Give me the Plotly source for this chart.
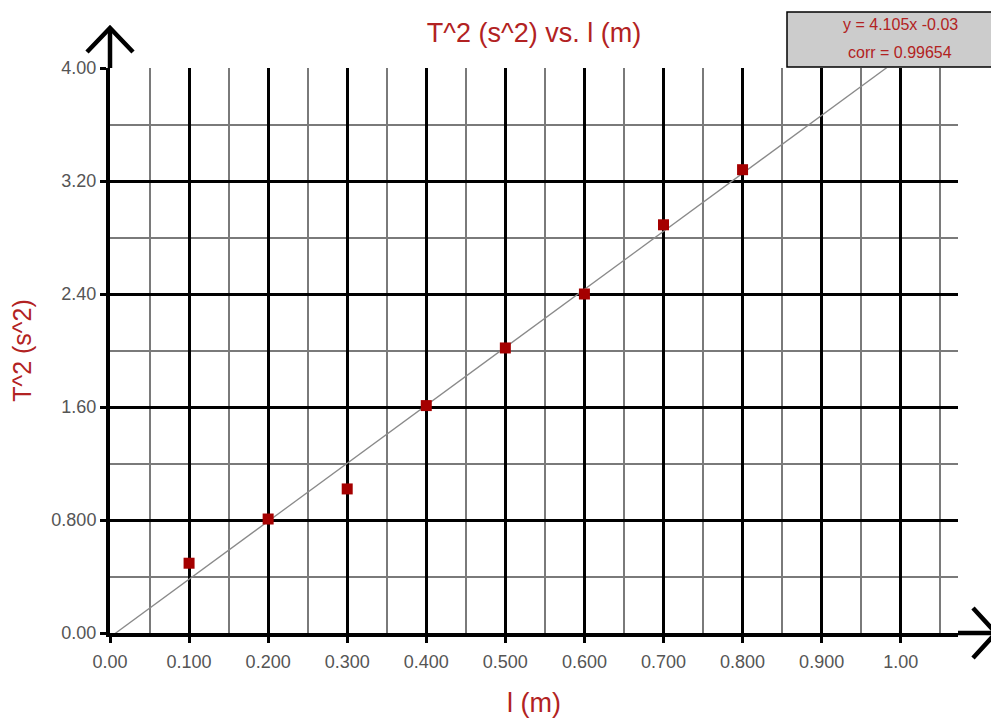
import plotly.graph_objects as go

# ---- data ----
length_m = [0.1, 0.2, 0.3, 0.4, 0.5, 0.6, 0.7, 0.8]
period_sq = [0.494, 0.807, 1.02, 1.61, 2.018, 2.40, 2.89, 3.28]

fit_slope = 4.105
fit_intercept = -0.03
fit_x = [0.0, 1.0]
fit_y = [fit_slope * v + fit_intercept for v in fit_x]

x_tick_vals = [0.0, 0.1, 0.2, 0.3, 0.4, 0.5, 0.6, 0.7, 0.8, 0.9, 1.0]
x_tick_text = ["0.00", "0.100", "0.200", "0.300", "0.400", "0.500",
               "0.600", "0.700", "0.800", "0.900", "1.00"]
y_tick_vals = [0.0, 0.8, 1.6, 2.4, 3.2, 4.0]
y_tick_text = ["0.00", "0.800", "1.60", "2.40", "3.20", "4.00"]

fit_label = "y = 4.105x -0.03"
corr_label = "corr = 0.99654"

RED = "#b22222"
FONT = "Arial, Liberation Sans, sans-serif"

fig = go.Figure()
fig.add_trace(go.Scatter(x=fit_x, y=fit_y, mode="lines",
                         line=dict(color="#8a8a8a", width=1.3),
                         hoverinfo="skip", showlegend=False))
fig.add_trace(go.Scatter(x=length_m, y=period_sq, mode="markers",
                         marker=dict(symbol="square", size=11, color="#a50000",
                                     line=dict(width=0)),
                         showlegend=False))

# page offset of the figure (default body margin)
OFF = 8
W, H = 999, 722
# plot area in page pixels: left 110, right 958, top 68, bottom 633
L, T = 110 - OFF, 68 - OFF
R = W - (958 - OFF)
B = H - (633 - OFF)
pw, ph = W - L - R, H - T - B

def px(xpage):
    return (xpage - OFF - L) / pw

def py(ypage):
    return (H - B - (ypage - OFF)) / ph

arrow = dict(color="black", width=4.5)
shapes = [
    # y axis arrow
    dict(type="line", xref="paper", yref="paper", x0=0, y0=1, x1=0, y1=py(28), line=arrow),
    dict(type="path", xref="paper", yref="paper",
         path=f"M {px(87)},{py(52)} L {px(110)},{py(28)} L {px(133)},{py(52)}",
         line=arrow),
    # x axis arrow
    dict(type="line", xref="paper", yref="paper", x0=1, y0=0, x1=px(996), y1=0, line=arrow),
    dict(type="path", xref="paper", yref="paper",
         path=f"M {px(973)},{py(608)} L {px(996)},{py(633)} L {px(973)},{py(658)}",
         line=arrow),
    # fit box
    dict(type="rect", xref="paper", yref="paper", x0=px(787), x1=px(1003),
         y0=py(67), y1=py(12), fillcolor="#cccccc",
         line=dict(color="black", width=1.5), layer="above"),
]

annotations = [
    dict(text=fit_label, xref="paper", yref="paper", x=px(900), y=py(24),
         xanchor="center", yanchor="middle",
         showarrow=False, font=dict(family=FONT, size=16, color=RED)),
    dict(text=corr_label, xref="paper", yref="paper", x=px(900), y=py(52),
         xanchor="center", yanchor="middle",
         showarrow=False, font=dict(family=FONT, size=16, color=RED)),
]

fig.update_layout(
    width=W, height=H,
    margin=dict(l=L, r=R, t=T, b=B, autoexpand=False),
    paper_bgcolor="white", plot_bgcolor="white",
    font=dict(family=FONT),
    title=dict(text="T^2 (s^2) vs. l (m)", x=0.5, xref="paper",
               y=1 - (33 - OFF) / H, yref="container", yanchor="middle",
               font=dict(family=FONT, size=27, color=RED)),
    shapes=shapes, annotations=annotations,
)

fig.update_xaxes(
    automargin=False,
    range=[0, (958 - 110) / 790.7], tickvals=x_tick_vals, ticktext=x_tick_text,
    showgrid=True, gridcolor="black", gridwidth=3,
    minor=dict(dtick=0.05, tick0=0, showgrid=True, gridcolor="#7a7a7a", gridwidth=1.5),
    showline=True, linecolor="black", linewidth=4, zeroline=False,
    ticks="outside", ticklen=6, tickwidth=3, tickcolor="black",
    ticklabelstandoff=3,
    tickfont=dict(family=FONT, size=18, color="#555555"),
    title=dict(text="l (m)", font=dict(family=FONT, size=27, color=RED), standoff=24),
)
fig.update_yaxes(
    automargin=False,
    range=[0, 4.0], tickvals=y_tick_vals, ticktext=y_tick_text,
    showgrid=True, gridcolor="black", gridwidth=3,
    minor=dict(dtick=0.4, tick0=0, showgrid=True, gridcolor="#7a7a7a", gridwidth=1.5),
    showline=True, linecolor="black", linewidth=4, zeroline=False,
    ticks="outside", ticklen=6, tickwidth=3, tickcolor="black",
    ticklabelstandoff=0,
    tickfont=dict(family=FONT, size=18, color="#555555"),
    title=dict(text="T^2 (s^2)", font=dict(family=FONT, size=25, color=RED), standoff=23),
)

fig.write_html("out.html")
